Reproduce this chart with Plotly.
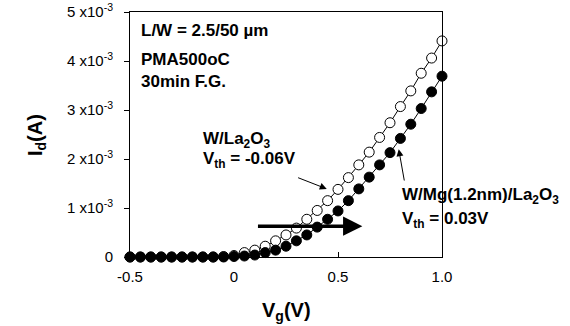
import plotly.graph_objects as go

vg = [-0.50, -0.45, -0.40, -0.35, -0.30, -0.25, -0.20, -0.15, -0.10, -0.05,
      0.00, 0.05, 0.10, 0.15, 0.20, 0.25, 0.30, 0.35, 0.40, 0.45,
      0.50, 0.55, 0.60, 0.65, 0.70, 0.75, 0.80, 0.85, 0.90, 0.95, 1.00]

# W/La2O3 (open circles), Id in A
id_la2o3 = [0, 0, 0, 0, 0, 0, 0, 0, 0, 0.00001,
            0.00003, 0.00009, 0.00014, 0.00022, 0.00033, 0.00045, 0.00059, 0.00077, 0.00095, 0.00115,
            0.00138, 0.00162, 0.00188, 0.00214, 0.00244, 0.00274, 0.00307, 0.00339, 0.00375, 0.00406, 0.00441]

# W/Mg(1.2nm)/La2O3 (filled circles), Id in A
id_mg = [0, 0, 0, 0, 0, 0, 0, 0, 0, 0,
         0.00001, 0.00002, 0.00004, 0.00009, 0.00014, 0.00022, 0.00033, 0.00045, 0.00061, 0.00077,
         0.00094, 0.00115, 0.00139, 0.00163, 0.00188, 0.00213, 0.00242, 0.00271, 0.00303, 0.00337, 0.00369]

y_tickvals = [0, 0.001, 0.002, 0.003, 0.004, 0.005]
y_ticktext = ["0", "1 x10<sup>-3</sup>", "2 x10<sup>-3</sup>", "3 x10<sup>-3</sup>",
              "4 x10<sup>-3</sup>", "5 x10<sup>-3</sup>"]
x_tickvals = [-0.5, 0, 0.5, 1.0]
x_ticktext = ["-0.5", "0", "0.5", "1.0"]

FONT = "Arial, Liberation Sans, sans-serif"

fig = go.Figure()
fig.add_trace(go.Scatter(
    x=vg, y=id_la2o3, mode="lines+markers", cliponaxis=False,
    line=dict(color="black", width=1),
    marker=dict(symbol="circle", size=10, color="white", line=dict(color="black", width=1)),
    showlegend=False))
fig.add_trace(go.Scatter(
    x=vg, y=id_mg, mode="lines+markers", cliponaxis=False,
    line=dict(color="black", width=1),
    marker=dict(symbol="circle", size=10, color="black", line=dict(color="black", width=1)),
    showlegend=False))

bold = dict(family=FONT, size=17, color="black")
anns = [
    dict(x=-0.458, y=0.00463, text="<b>L/W = 2.5/50 µm</b>"),
    dict(x=-0.458, y=0.00380, text="<b>PMA500oC<br>30min F.G.</b>"),
    dict(x=-0.16, y=0.00239, text="<b>W/La<sub>2</sub>O<sub>3</sub></b>"),
    dict(x=-0.16, y=0.00198, text="<b>V<sub>th</sub> = -0.06V</b>"),
    dict(x=0.80, y=0.001245, text="<b>W/Mg(1.2nm)/La<sub>2</sub>O<sub>3</sub></b>"),
    dict(x=0.80, y=0.000755, text="<b>V<sub>th</sub> = 0.03V</b>"),
]
annotations = []
for a in anns:
    annotations.append(dict(x=a["x"], y=a["y"], xref="x", yref="y", text=a["text"],
                            showarrow=False, xanchor="left", yanchor="middle",
                            align="left", font=bold))
# axis titles
annotations.append(dict(x=0.5, y=-0.222, xref="paper", yref="paper", showarrow=False,
                        text="<b>V<sub>g</sub>(V)</b>", xanchor="center", yanchor="middle",
                        font=dict(family=FONT, size=20, color="black")))
annotations.append(dict(x=-0.298, y=0.498, xref="paper", yref="paper", showarrow=False,
                        text="<b>I<sub>d</sub>(A)</b>", textangle=-90,
                        xanchor="center", yanchor="middle",
                        font=dict(family=FONT, size=20, color="black")))
# arrows
annotations.append(dict(x=0.446, y=0.00139, ax=0.301, ay=0.00163, xref="x", yref="y",
                        axref="x", ayref="y", text="", showarrow=True, arrowhead=2,
                        arrowsize=1.4, arrowwidth=1, arrowcolor="black"))
annotations.append(dict(x=0.792, y=0.00220, ax=0.820, ay=0.00153, xref="x", yref="y",
                        axref="x", ayref="y", text="", showarrow=True, arrowhead=2,
                        arrowsize=1.4, arrowwidth=1, arrowcolor="black"))
annotations.append(dict(x=0.617, y=0.00063, ax=0.108, ay=0.00063, xref="x", yref="y",
                        axref="x", ayref="y", text="", showarrow=True, arrowhead=2,
                        arrowsize=1.1, arrowwidth=3.5, arrowcolor="black"))

fig.update_layout(
    width=570, height=326,
    margin=dict(l=130, r=128, t=12, b=69, autoexpand=False),
    paper_bgcolor="white", plot_bgcolor="white",
    font=dict(family=FONT, size=15, color="black"),
    annotations=annotations,
    xaxis=dict(range=[-0.5, 1.0], tickvals=x_tickvals, ticktext=x_ticktext,
               ticks="inside", ticklen=5, tickcolor="black", showgrid=False, zeroline=False,
               showline=True, linecolor="black", linewidth=1, mirror=True,
               ticklabelstandoff=6, automargin=False,
               tickfont=dict(family=FONT, size=15, color="black")),
    yaxis=dict(range=[0, 0.005], tickvals=y_tickvals, ticktext=y_ticktext,
               ticks="outside", ticklen=5, tickcolor="black", showgrid=False, zeroline=False,
               showline=True, linecolor="black", linewidth=1, mirror=True,
               ticklabelstandoff=8, automargin=False,
               tickfont=dict(family=FONT, size=15, color="black")),
)

fig.write_html("out.html", config={"displayModeBar": False},
               post_script="document.body.style.margin='0';")
